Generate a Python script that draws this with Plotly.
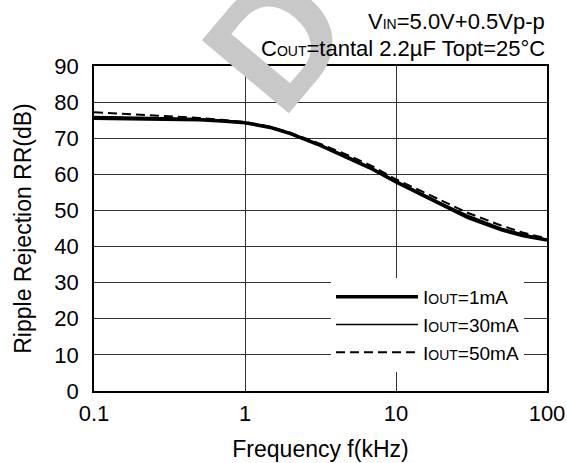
import plotly.graph_objects as go

# Data
freq_khz = [0.1, 0.2, 0.3, 0.5, 0.7, 1, 1.5, 2, 3, 5, 7, 10, 15, 20, 30, 50, 70, 100]
rr_1ma = [75.5, 75.4, 75.3, 75.1, 74.8, 74.3, 72.9, 71.3, 68.4, 64.3, 61.4, 57.9, 54.2, 51.5, 48.0, 44.6, 43.0, 41.8]
rr_30ma = [76.0, 75.9, 75.7, 75.4, 75.0, 74.4, 73.0, 71.4, 68.6, 64.6, 61.7, 58.2, 54.6, 52.0, 48.6, 45.1, 43.4, 42.0]
rr_50ma = [77.2, 76.6, 76.2, 75.6, 75.1, 74.5, 73.1, 71.5, 68.8, 65.0, 62.2, 58.6, 55.2, 52.7, 49.3, 45.8, 43.8, 42.2]

x_ticks = [0.1, 1, 10, 100]
x_ticktext = ["0.1", "1", "10", "100"]
y_ticks = [0, 10, 20, 30, 40, 50, 60, 70, 80, 90]

SM = "<span style='font-size:14px'>{}</span>"
names = ["I" + SM.format("OUT") + "=1mA", "I" + SM.format("OUT") + "=30mA", "I" + SM.format("OUT") + "=50mA"]

FONT = "Liberation Sans, Arial, sans-serif"
FS = 22

# plot area in page pixels: x 94..547, y 66..391
def px_x(p):
    return (p - 94) / 453

def px_y(p):
    return (391 - p) / 325

fig = go.Figure()
fig.add_trace(go.Scatter(x=freq_khz, y=rr_1ma, mode="lines", name=names[0],
                         line=dict(color="black", width=3.5)))
fig.add_trace(go.Scatter(x=freq_khz, y=rr_30ma, mode="lines", name=names[1],
                         line=dict(color="black", width=1.5)))
fig.add_trace(go.Scatter(x=freq_khz, y=rr_50ma, mode="lines", name=names[2],
                         line=dict(color="black", width=2, dash="9px,5px")))

fig.update_layout(
    width=567, height=463,
    margin=dict(l=94, r=20, t=66, b=72),
    paper_bgcolor="white", plot_bgcolor="white",
    font=dict(family=FONT, size=FS, color="black"),
    showlegend=True,
    legend=dict(x=px_x(331), xanchor="left", y=px_y(278), yanchor="top",
                bgcolor="white", borderwidth=0, itemwidth=82,
                font=dict(size=19, family=FONT)),
    xaxis=dict(type="log", range=[-1, 2], tickvals=x_ticks, ticktext=x_ticktext,
               showgrid=True, gridcolor="#333", gridwidth=1, zeroline=False,
               showline=True, linecolor="black", linewidth=1.5, mirror=True,
               ticks="", ticklabelstandoff=2, automargin=False,
               title=dict(text="Frequency f(kHz)", standoff=16, font=dict(size=FS + 1))),
    yaxis=dict(range=[0, 90], tickvals=y_ticks, showgrid=True, gridcolor="#333", gridwidth=1,
               zeroline=False, showline=True, linecolor="black", linewidth=1.5, mirror=True,
               ticks="", ticklabelstandoff=9, automargin=False,
               title=dict(text="Ripple Rejection RR(dB)", standoff=16, font=dict(size=FS + 1))),
    annotations=[
        dict(text="D", xref="paper", yref="paper", x=px_x(276), y=px_y(40),
             showarrow=False, textangle=-50,
             font=dict(size=165, color="#c8c8c8", family=FONT, weight="bold"),
             xanchor="center", yanchor="middle"),
        dict(text="V" + SM.format("IN") + "=5.0V+0.5Vp-p", xref="paper", yref="paper",
             x=px_x(547), y=px_y(21), xanchor="right", yanchor="middle", showarrow=False,
             font=dict(size=FS)),
        dict(text="C" + SM.format("OUT") + "=tantal 2.2\u00b5F Topt=25\u00b0C", xref="paper", yref="paper",
             x=px_x(547), y=px_y(48), xanchor="right", yanchor="middle", showarrow=False,
             font=dict(size=FS)),
    ],
)

fig.write_html("out.html", config={"displayModeBar": False},
               post_script="document.body.style.margin='0';")
